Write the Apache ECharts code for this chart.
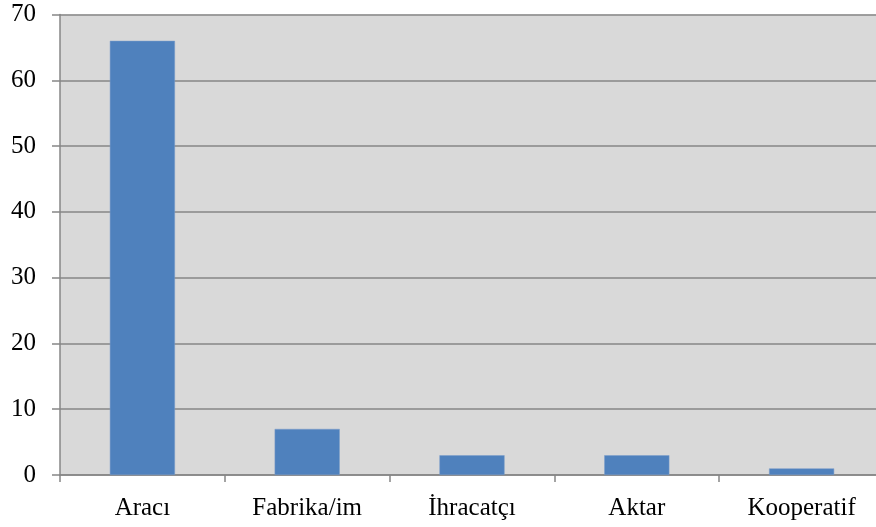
<!DOCTYPE html>
<html><head><meta charset="utf-8">
<script src="https://cdn.jsdelivr.net/npm/echarts@6/dist/echarts.min.js"></script>
<style>html,body{margin:0;padding:0;background:#fff}#c{width:876px;height:527px}</style>
</head><body><div id="c"></div>
<script>
const categories = ['Aracı', 'Fabrika/im', 'İhracatçı', 'Aktar', 'Kooperatif'];
const values = [66, 7, 3, 3, 1];
const yTicks = [0, 10, 20, 30, 40, 50, 60, 70];

const chart = echarts.init(document.getElementById('c'), null, {renderer: 'canvas'});
chart.setOption({
  animation: false,
  grid: {left: 60, top: 14.5, width: 824, height: 460.5, backgroundColor: '#D9D9D9', show: true, borderWidth: 0, outerBoundsMode: 'none', containLabel: false},
  xAxis: {
    type: 'category', data: categories,
    axisLine: {lineStyle: {color: '#868686', width: 1.5}},
    axisTick: {show: true, length: 7, lineStyle: {color: '#868686', width: 1.5}},
    axisLabel: {color: '#000', fontFamily: 'Liberation Serif', fontSize: 25, margin: 21}
  },
  yAxis: {
    type: 'value', min: yTicks[0], max: yTicks[yTicks.length-1], interval: 10,
    axisLine: {show: true, lineStyle: {color: '#868686', width: 1.5}},
    axisTick: {show: true, length: 8, lineStyle: {color: '#868686', width: 1.5}},
    splitLine: {lineStyle: {color: '#868686', width: 1.5}},
    axisLabel: {color: '#000', fontFamily: 'Liberation Serif', fontSize: 25, margin: 24}
  },
  series: [{
    type: 'bar', data: values, barWidth: '39.5%',
    itemStyle: {color: '#4F81BD', borderColor: '#7A9CCB', borderWidth: 0.5}
  }]
});
</script></body></html>
